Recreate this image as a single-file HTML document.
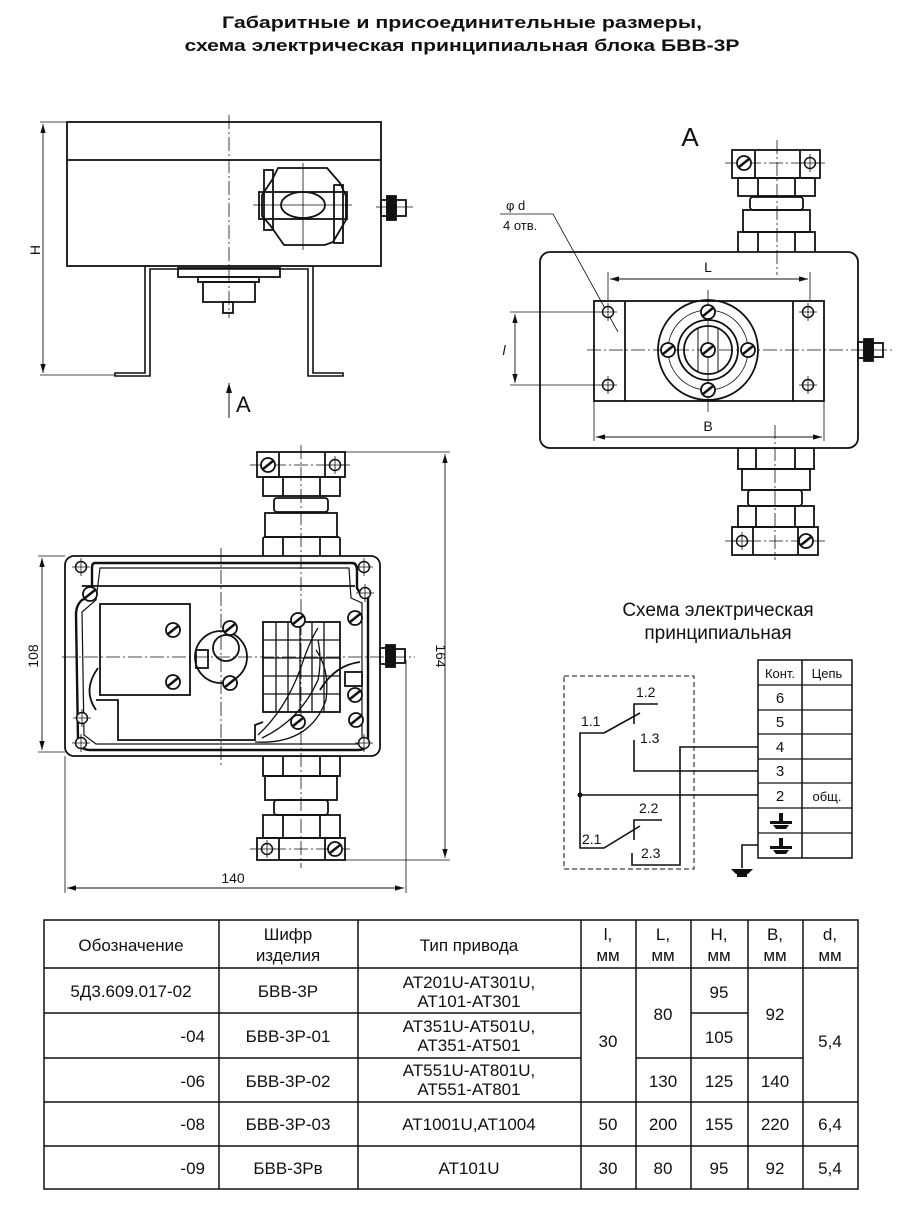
<!DOCTYPE html>
<html><head><meta charset="utf-8"><style>
html,body{margin:0;padding:0;background:#fff;}
svg{display:block;}
text{font-family:"Liberation Sans",sans-serif;fill:#111;}
</style></head><body>
<svg width="901" height="1205" viewBox="0 0 901 1205" xmlns="http://www.w3.org/2000/svg">
<defs>
<marker id="ar" viewBox="0 0 10 6" refX="10" refY="3" markerWidth="10" markerHeight="6" orient="auto-start-reverse"><path d="M0,0 L10,3 L0,6 z" fill="#111"/></marker>
<g id="screw"><circle r="7" fill="#fff" stroke="#111" stroke-width="1.8"/><line x1="-5" y1="4" x2="5" y2="-4" stroke="#111" stroke-width="2.5"/></g>
<g id="hole"><circle r="5.5" fill="#fff" stroke="#111" stroke-width="1.5"/><line x1="-9" y1="0" x2="9" y2="0" stroke="#111" stroke-width="0.8"/><line x1="0" y1="-9" x2="0" y2="9" stroke="#111" stroke-width="0.8"/></g>
</defs>
<!-- title -->
<text x="462" y="28" font-size="17" font-weight="bold" text-anchor="middle" textLength="480" lengthAdjust="spacingAndGlyphs">Габаритные и присоединительные размеры,</text>
<text x="462" y="51" font-size="17" font-weight="bold" text-anchor="middle" textLength="555" lengthAdjust="spacingAndGlyphs">схема электрическая принципиальная блока БВВ-3Р</text>

<g fill="none" stroke="#111" stroke-width="1.8">
<!-- SIDE VIEW -->
<rect x="67" y="122" width="314" height="144"/>
<line x1="67" y1="160" x2="381" y2="160"/>
<path d="M145,266 V373 H115 V376 H150 V269 H308 V376 H343 V373 H313 V266" stroke-width="1.6"/>
<rect x="178" y="268" width="102" height="9"/>
<rect x="198" y="277" width="61" height="5"/>
<rect x="203" y="282" width="52" height="20"/>
<rect x="223" y="302" width="10" height="11"/>
<line x1="229" y1="115" x2="229" y2="318" stroke-width="0.8" stroke-dasharray="14,3,2,3"/>
<!-- clamp -->
<path d="M278,168 L327,168 L340,183 L346,196 L346,220 L333,242 L325,245 L284,245 L270,225 L262,216 L262,195 L272,180 Z"/>
<rect x="259" y="192" width="88" height="27"/>
<ellipse cx="303" cy="205" rx="22" ry="13"/>
<rect x="264" y="170" width="9" height="60"/>
<rect x="334" y="185" width="9" height="58"/>
<line x1="253" y1="205" x2="352" y2="205" stroke-width="0.8"/>
<line x1="303" y1="163" x2="303" y2="250" stroke-width="0.8"/>
<!-- nut -->
<rect x="381" y="200" width="6" height="16"/>
<rect x="387" y="196" width="9" height="24" fill="#111"/>
<rect x="396" y="200" width="10" height="16"/>
<line x1="376" y1="207" x2="413" y2="207" stroke-width="0.8"/>
<!-- H dim -->
<line x1="40" y1="122" x2="67" y2="122" stroke-width="0.8"/>
<line x1="40" y1="375" x2="115" y2="375" stroke-width="0.8"/>
<line x1="43" y1="124" x2="43" y2="373" stroke-width="0.9" marker-start="url(#ar)" marker-end="url(#ar)"/>
<line x1="229" y1="383" x2="229" y2="418" stroke-width="1" marker-start="url(#ar)"/>

<!-- BOTTOM VIEW (plan) -->
<rect x="257" y="452" width="88" height="25"/>
<line x1="279" y1="452" x2="279" y2="477"/><line x1="325" y1="452" x2="325" y2="477"/>
<rect x="263" y="477" width="77" height="19"/>
<line x1="283" y1="477" x2="283" y2="496"/><line x1="320" y1="477" x2="320" y2="496"/>
<rect x="274" y="498" width="54" height="14" rx="3"/>
<rect x="265" y="513" width="72" height="24"/>
<rect x="263" y="537" width="77" height="40" rx="2"/>
<line x1="283" y1="537" x2="283" y2="556"/><line x1="320" y1="537" x2="320" y2="556"/>
<rect x="263" y="756" width="77" height="20"/>
<line x1="283" y1="756" x2="283" y2="776"/><line x1="320" y1="756" x2="320" y2="776"/>
<rect x="265" y="776" width="72" height="24"/>
<rect x="274" y="800" width="54" height="15" rx="3"/>
<rect x="263" y="815" width="77" height="23"/>
<line x1="283" y1="815" x2="283" y2="838"/><line x1="320" y1="815" x2="320" y2="838"/>
<rect x="257" y="838" width="88" height="22"/>
<line x1="279" y1="838" x2="279" y2="860"/><line x1="325" y1="838" x2="325" y2="860"/>
<rect x="65" y="556" width="315" height="200" rx="9" fill="#fff"/>
<path d="M95,563 L352,563 Q357,563 357,570 L357,588 Q360,595 368,598 L368,740 Q368,750 358,750 L90,750 Q80,750 78,740 L76,615 Q76,605 82,600 Q92,596 92,588 L92,568 Q92,563 95,563 Z" stroke-width="2.4"/>
<path d="M100,568 L349,568 L351,598 L362,603 L362,744 L96,744 L84,735 L82,612 L96,600 Z" stroke-width="1.2"/>
<line x1="82" y1="586" x2="355" y2="586"/>
<rect x="100" y="604" width="90" height="91"/>
<path d="M96,700 L118,700 L118,740 L255,740 L255,725 L263,722"/>
<path d="M98,668 Q82,690 96,710"/>
<circle cx="221" cy="657" r="26"/>
<circle cx="226" cy="648" r="13"/>
<rect x="196" y="650" width="12" height="18"/>
<rect x="263" y="622" width="77" height="90"/>
<path d="M276,622 V712 M288,622 V712 M300,622 V712 M312,622 V712 M324,622 V712 M263,640 H340 M263,658 H340 M263,676 H340 M263,694 H340" stroke-width="1.3"/>
<path d="M258,735 Q285,710 300,670 Q310,640 318,628 M262,738 Q300,720 318,680 Q322,660 318,640 M255,742 Q310,745 326,700 Q330,670 316,650" stroke-width="1.3"/>
<rect x="345" y="672" width="17" height="14"/>
<path d="M320,690 Q335,665 360,662"/>
<rect x="380" y="648" width="6" height="16"/>
<rect x="386" y="645" width="9" height="22" fill="#111"/>
<rect x="395" y="649" width="10" height="14"/>
<line x1="221" y1="548" x2="221" y2="765" stroke-width="0.8" stroke-dasharray="14,3,2,3"/>
<line x1="301" y1="445" x2="301" y2="868" stroke-width="0.8" stroke-dasharray="14,3,2,3"/>
<line x1="62" y1="657" x2="415" y2="657" stroke-width="0.8" stroke-dasharray="14,3,2,3"/>
<line x1="250" y1="465" x2="350" y2="465" stroke-width="0.8" stroke-dasharray="14,3,2,3"/>
<line x1="250" y1="849" x2="350" y2="849" stroke-width="0.8" stroke-dasharray="14,3,2,3"/>
<line x1="38" y1="556" x2="65" y2="556" stroke-width="0.8"/>
<line x1="38" y1="752" x2="65" y2="752" stroke-width="0.8"/>
<line x1="42" y1="558" x2="42" y2="750" stroke-width="0.9" marker-start="url(#ar)" marker-end="url(#ar)"/>
<line x1="345" y1="452" x2="450" y2="452" stroke-width="0.8"/>
<line x1="345" y1="860" x2="450" y2="860" stroke-width="0.8"/>
<line x1="445" y1="454" x2="445" y2="858" stroke-width="0.9" marker-start="url(#ar)" marker-end="url(#ar)"/>
<line x1="65" y1="756" x2="65" y2="893" stroke-width="0.8"/>
<line x1="406" y1="660" x2="406" y2="893" stroke-width="0.8"/>
<line x1="67" y1="888" x2="404" y2="888" stroke-width="0.9" marker-start="url(#ar)" marker-end="url(#ar)"/>

<!-- VIEW A -->
<rect x="732" y="150" width="88" height="28"/>
<line x1="755" y1="150" x2="755" y2="178"/><line x1="800" y1="150" x2="800" y2="178"/>
<rect x="738" y="178" width="77" height="18"/>
<line x1="758" y1="178" x2="758" y2="196"/><line x1="795" y1="178" x2="795" y2="196"/>
<rect x="750" y="197" width="53" height="13" rx="3"/>
<rect x="743" y="210" width="67" height="22"/>
<rect x="738" y="232" width="77" height="21"/>
<line x1="758" y1="232" x2="758" y2="253"/><line x1="795" y1="232" x2="795" y2="253"/>
<rect x="738" y="448" width="76" height="21"/>
<line x1="756" y1="448" x2="756" y2="469"/><line x1="795" y1="448" x2="795" y2="469"/>
<rect x="742" y="469" width="68" height="21"/>
<rect x="748" y="490" width="54" height="16" rx="3"/>
<rect x="738" y="506" width="76" height="21"/>
<line x1="756" y1="506" x2="756" y2="527"/><line x1="795" y1="506" x2="795" y2="527"/>
<rect x="732" y="527" width="86" height="28"/>
<line x1="753" y1="527" x2="753" y2="555"/><line x1="798" y1="527" x2="798" y2="555"/>
<rect x="540" y="252" width="318" height="196" rx="10" fill="#fff"/>
<rect x="594" y="301" width="230" height="100"/>
<line x1="625" y1="301" x2="625" y2="401"/><line x1="793" y1="301" x2="793" y2="401"/>
<circle cx="708" cy="350" r="50"/>
<circle cx="708" cy="350" r="40" stroke-width="0.8"/>
<circle cx="708" cy="350" r="30"/>
<circle cx="708" cy="350" r="24"/>
<line x1="698" y1="328" x2="698" y2="372" stroke-width="1"/><line x1="718" y1="328" x2="718" y2="372" stroke-width="1"/>
<rect x="858" y="342" width="6" height="16"/>
<rect x="864" y="339" width="9" height="22" fill="#111"/>
<rect x="873" y="343" width="10" height="14"/>
<line x1="587" y1="350" x2="892" y2="350" stroke-width="0.8" stroke-dasharray="14,3,2,3"/>
<line x1="708" y1="290" x2="708" y2="412" stroke-width="0.8"/>
<line x1="777" y1="140" x2="777" y2="275" stroke-width="0.8" stroke-dasharray="14,3,2,3"/>
<line x1="775" y1="425" x2="775" y2="560" stroke-width="0.8" stroke-dasharray="14,3,2,3"/>
<line x1="725" y1="163" x2="825" y2="163" stroke-width="0.8" stroke-dasharray="14,3,2,3"/>
<line x1="725" y1="541" x2="825" y2="541" stroke-width="0.8" stroke-dasharray="14,3,2,3"/>
<line x1="608" y1="272" x2="608" y2="300" stroke-width="0.8"/>
<line x1="810" y1="272" x2="810" y2="300" stroke-width="0.8"/>
<line x1="610" y1="279" x2="808" y2="279" stroke-width="0.9" marker-start="url(#ar)" marker-end="url(#ar)"/>
<line x1="594" y1="401" x2="594" y2="441" stroke-width="0.8"/>
<line x1="824" y1="401" x2="824" y2="441" stroke-width="0.8"/>
<line x1="596" y1="437" x2="822" y2="437" stroke-width="0.9" marker-start="url(#ar)" marker-end="url(#ar)"/>
<line x1="510" y1="312" x2="600" y2="312" stroke-width="0.8"/>
<line x1="510" y1="385" x2="600" y2="385" stroke-width="0.8"/>
<line x1="515" y1="314" x2="515" y2="383" stroke-width="0.9" marker-start="url(#ar)" marker-end="url(#ar)"/>
<path d="M500,214 L553,214 L618,332" stroke-width="0.8"/>

<!-- SCHEMATIC -->
<rect x="564" y="676" width="130" height="193" stroke-width="1" stroke-dasharray="5,3"/>
<rect x="758" y="660" width="94" height="198" stroke-width="1.5"/>
<line x1="802" y1="660" x2="802" y2="858" stroke-width="1.5"/>
<path d="M758,685 H852 M758,710 H852 M758,734 H852 M758,759 H852 M758,783 H852 M758,808 H852 M758,833 H852" stroke-width="1.3"/>
<g stroke-width="1.6">
<path d="M758,747 H680 V865 H632 V853"/>
<path d="M758,771 H634 V740"/>
<path d="M758,795 H580"/>
<path d="M604,733 H580 V848 H604 L640,826"/>
<path d="M604,733 L640,713"/>
<path d="M634,724 V704 H658"/>
<path d="M634,840 V820 H662"/>
<path d="M758,845 H742 V868"/>
</g>
</g>
<circle cx="580" cy="795" r="2.5" fill="#111"/>
<g fill="#111">
<path d="M731,869 H753 L748,874 H736 Z"/><rect x="737" y="874" width="10" height="3"/>
<path d="M770,821 h22 v3 h-22 z M779,813 h4 v8 h-4 z M773,825 h16 l-3,4 h-10 z"/>
<path d="M770,846 h22 v3 h-22 z M779,838 h4 v8 h-4 z M773,850 h16 l-3,4 h-10 z"/>
</g>
<use href="#screw" x="268" y="465"/><use href="#hole" x="335" y="465"/>
<use href="#hole" x="267" y="849"/><use href="#screw" x="335" y="849"/>
<use href="#screw" x="744" y="163"/><use href="#hole" x="810" y="163"/>
<use href="#hole" x="742" y="541"/><use href="#screw" x="806" y="541"/>
<use href="#hole" x="608" y="312"/><use href="#hole" x="608" y="385"/><use href="#hole" x="808" y="312"/><use href="#hole" x="808" y="385"/>
<use href="#screw" x="708" y="312"/><use href="#screw" x="668" y="350"/><use href="#screw" x="748" y="350"/><use href="#screw" x="708" y="390"/><use href="#screw" x="708" y="350"/>
<use href="#hole" x="81" y="567"/><use href="#hole" x="364" y="567"/><use href="#hole" x="81" y="743"/><use href="#hole" x="364" y="743"/>
<use href="#hole" x="82" y="718"/><use href="#hole" x="365" y="593"/>
<use href="#screw" x="90" y="594"/><use href="#screw" x="173" y="630"/><use href="#screw" x="173" y="682"/>
<use href="#screw" x="298" y="620"/><use href="#screw" x="355" y="618"/><use href="#screw" x="355" y="695"/><use href="#screw" x="356" y="720"/><use href="#screw" x="298" y="722"/>
<use href="#screw" x="230" y="628"/><use href="#screw" x="230" y="683"/>

<text x="40" y="250" font-size="14" transform="rotate(-90 40 250)" text-anchor="middle">H</text>
<text x="236" y="412" font-size="22">A</text>
<text x="690" y="146" font-size="26" text-anchor="middle">A</text>
<text x="38" y="656" font-size="14" transform="rotate(-90 38 656)" text-anchor="middle">108</text>
<text x="436" y="656" font-size="14" transform="rotate(90 436 656)" text-anchor="middle">164</text>
<text x="233" y="883" font-size="14" text-anchor="middle">140</text>
<text x="708" y="272" font-size="14" text-anchor="middle">L</text>
<text x="708" y="431" font-size="14" text-anchor="middle">B</text>
<text x="504" y="355" font-size="14" font-style="italic" text-anchor="middle">l</text>
<text x="506" y="210" font-size="13">φ d</text>
<text x="503" y="230" font-size="13">4 отв.</text>
<text x="718" y="616" font-size="19" text-anchor="middle">Схема электрическая</text>
<text x="718" y="639" font-size="19" text-anchor="middle">принципиальная</text>
<g font-size="13" text-anchor="middle">
<text x="780" y="678">Конт.</text><text x="827" y="678">Цепь</text>
<text x="780" y="703" font-size="15">6</text><text x="780" y="727" font-size="15">5</text><text x="780" y="752" font-size="15">4</text><text x="780" y="776" font-size="15">3</text><text x="780" y="801" font-size="15">2</text><text x="827" y="801">общ.</text>
</g>
<g font-size="14">
<text x="636" y="697">1.2</text><text x="581" y="726">1.1</text><text x="640" y="743">1.3</text>
<text x="639" y="813">2.2</text><text x="582" y="844">2.1</text><text x="641" y="858">2.3</text>
</g>

<g fill="none" stroke="#111" stroke-width="1.5">
<rect x="44" y="920" width="814" height="269"/>
<path d="M219,920 V1189 M358,920 V1189 M581,920 V1189 M636,920 V1189 M691,920 V1189 M748,920 V1189 M803,920 V1189"/>
<path d="M44,968 H858"/>
<path d="M44,1013 H581 M691,1013 H748"/>
<path d="M44,1058 H581 M636,1058 H803"/>
<path d="M44,1102 H858 M44,1146 H858"/>
</g>
<g font-size="17" text-anchor="middle">
<text x="131" y="951">Обозначение</text>
<text x="288" y="940">Шифр</text><text x="288" y="961">изделия</text>
<text x="469" y="951">Тип привода</text>
<text x="608" y="940">l,</text><text x="608" y="961">мм</text>
<text x="663" y="940">L,</text><text x="663" y="961">мм</text>
<text x="719" y="940">H,</text><text x="719" y="961">мм</text>
<text x="775" y="940">B,</text><text x="775" y="961">мм</text>
<text x="830" y="940">d,</text><text x="830" y="961">мм</text>
<text x="131" y="997">5Д3.609.017-02</text>
<text x="288" y="997">БВВ-3Р</text>
<text x="469" y="988">АТ201U-АТ301U,</text><text x="469" y="1007">АТ101-АТ301</text>
<text x="205" y="1042" text-anchor="end">-04</text><text x="288" y="1042">БВВ-3Р-01</text>
<text x="469" y="1032">АТ351U-АТ501U,</text><text x="469" y="1051">АТ351-АТ501</text>
<text x="205" y="1087" text-anchor="end">-06</text><text x="288" y="1087">БВВ-3Р-02</text>
<text x="469" y="1076">АТ551U-АТ801U,</text><text x="469" y="1095">АТ551-АТ801</text>
<text x="608" y="1047">30</text>
<text x="663" y="1020">80</text><text x="663" y="1087">130</text>
<text x="719" y="998">95</text><text x="719" y="1043">105</text><text x="719" y="1087">125</text>
<text x="775" y="1020">92</text><text x="775" y="1087">140</text>
<text x="830" y="1047">5,4</text>
<text x="205" y="1130" text-anchor="end">-08</text><text x="288" y="1130">БВВ-3Р-03</text><text x="469" y="1130">АТ1001U,АТ1004</text>
<text x="608" y="1130">50</text><text x="663" y="1130">200</text><text x="719" y="1130">155</text><text x="775" y="1130">220</text><text x="830" y="1130">6,4</text>
<text x="205" y="1174" text-anchor="end">-09</text><text x="288" y="1174">БВВ-3Рв</text><text x="469" y="1174">АТ101U</text>
<text x="608" y="1174">30</text><text x="663" y="1174">80</text><text x="719" y="1174">95</text><text x="775" y="1174">92</text><text x="830" y="1174">5,4</text>
</g>
</svg>
</body></html>
